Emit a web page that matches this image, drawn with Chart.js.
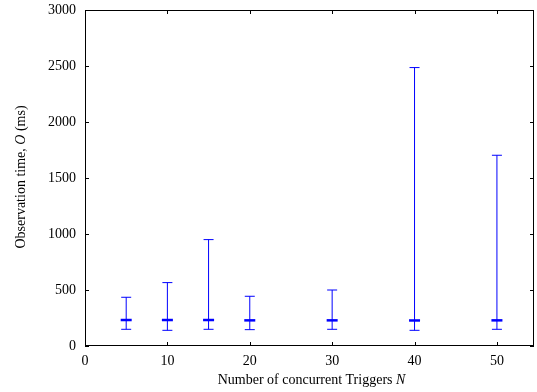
<!DOCTYPE html>
<html lang="en">
<head>
<meta charset="UTF-8">
<title>Observation time vs concurrent triggers</title>
<style>
  html, body { margin: 0; padding: 0; background: #fff; }
  #wrap { width: 537px; height: 392px; }
</style>
</head>
<body>
<div id="wrap"><canvas id="chart"></canvas></div>

<script src="https://cdn.jsdelivr.net/npm/chart.js@4.4.1/dist/chart.umd.min.js"></script>
<script>
// values
const triggers = [5, 10, 15, 20, 30, 40, 50];
const minTimes = [149, 140, 149, 146, 149, 140, 149];
const meanTimes = [232, 232, 232, 229, 229, 228, 229];
const maxTimes = [435, 566, 950, 444, 500, 2486, 1703];
const xTicks = [0, 10, 20, 30, 40, 50];
const yTicks = [0, 500, 1000, 1500, 2000, 2500, 3000];

const FONT = 'Liberation Serif, Times New Roman, serif';
const BLUE = '#0000ff';

// vertical whiskers, one segment per N, broken with null points
const whiskers = [];
triggers.forEach((n, i) => {
    whiskers.push({ x: n, y: minTimes[i] });
    whiskers.push({ x: n, y: maxTimes[i] });
    whiskers.push({ x: n + 0.5, y: null });
});
const caps = [];
triggers.forEach((n, i) => {
    caps.push({ x: n, y: minTimes[i] });
    caps.push({ x: n, y: maxTimes[i] });
});
const means = triggers.map((n, i) => ({ x: n, y: meanTimes[i] }));

// border box, inward ticks on all four sides, and the axis titles
const frame = {
    id: 'frame',
    afterDraw(chart) {
        const { ctx, chartArea: a, scales } = chart;
        ctx.save();
        ctx.strokeStyle = '#000';
        ctx.lineWidth = 1;
        ctx.strokeRect(a.left + 0.5, a.top + 0.5, a.right - a.left - 1, a.bottom - a.top - 1);
        const len = 4;
        ctx.beginPath();
        xTicks.forEach(v => {
            const px = Math.round(scales.x.getPixelForValue(v)) + 0.5;
            ctx.moveTo(px, a.bottom); ctx.lineTo(px, a.bottom - len);
            ctx.moveTo(px, a.top); ctx.lineTo(px, a.top + len);
        });
        yTicks.forEach(v => {
            const py = Math.round(scales.y.getPixelForValue(v)) + 0.5;
            ctx.moveTo(a.left, py); ctx.lineTo(a.left + len, py);
            ctx.moveTo(a.right, py); ctx.lineTo(a.right - len, py);
        });
        ctx.stroke();

        ctx.fillStyle = '#000';
        ctx.textBaseline = 'middle';
        const drawParts = (parts, size, cx, cy) => {
            let total = 0;
            parts.forEach(p => { ctx.font = p[1] + ' ' + size + 'px ' + FONT; total += ctx.measureText(p[0]).width; });
            let x = cx - total / 2;
            parts.forEach(p => {
                ctx.font = p[1] + ' ' + size + 'px ' + FONT;
                ctx.textAlign = 'left';
                ctx.fillText(p[0], x, cy);
                x += ctx.measureText(p[0]).width;
            });
        };
        drawParts([['Number of concurrent Triggers ', 'normal'], ['N', 'italic']], 14,
            (a.left + a.right) / 2 + 2, 380);
        ctx.translate(21, 177);
        ctx.rotate(-Math.PI / 2);
        drawParts([['Observation time, ', 'normal'], ['O', 'italic'], [' (ms)', 'normal']], 14, 0, 0);
        ctx.restore();
    }
};

new Chart(document.getElementById('chart'), {
    type: 'scatter',
    data: {
        datasets: [
            {
                type: 'line',
                data: whiskers,
                borderColor: BLUE,
                borderWidth: 1,
                pointRadius: 0,
                spanGaps: false
            },
            {
                data: caps,
                pointStyle: 'line',
                pointRadius: 5,
                pointBorderWidth: 1,
                pointBorderColor: BLUE,
                pointHoverRadius: 5
            },
            {
                data: means,
                pointStyle: 'line',
                pointRadius: 5.5,
                pointBorderWidth: 2.5,
                pointBorderColor: BLUE,
                pointHoverRadius: 5.5
            }
        ]
    },
    options: {
        responsive: true,
        maintainAspectRatio: false,
        animation: false,
        events: [],
        layout: { autoPadding: false, padding: { top: 10, right: 3, left: 0, bottom: 0 } },
        plugins: { legend: { display: false }, tooltip: { enabled: false } },
        scales: {
            x: {
                type: 'linear',
                min: 0,
                max: 54.5,
                afterBuildTicks: s => { s.ticks = xTicks.map(v => ({ value: v })); },
                afterFit: s => { s.height = 46; s.paddingLeft = 0; s.paddingRight = 0; },
                grid: { display: false, drawTicks: false },
                border: { display: false },
                ticks: { color: '#000', padding: 7, font: { family: FONT, size: 14 }, maxRotation: 0 }
            },
            y: {
                min: 0,
                max: 3000,
                afterBuildTicks: s => { s.ticks = yTicks.map(v => ({ value: v })); },
                afterFit: s => { s.width = 85; s.paddingTop = 0; s.paddingBottom = 0; },
                grid: { display: false, drawTicks: false },
                border: { display: false },
                ticks: {
                    color: '#000',
                    padding: 9,
                    font: { family: FONT, size: 14 },
                    callback: v => String(v)
                }
            }
        }
    },
    plugins: [frame]
});
</script>
</body>
</html>
